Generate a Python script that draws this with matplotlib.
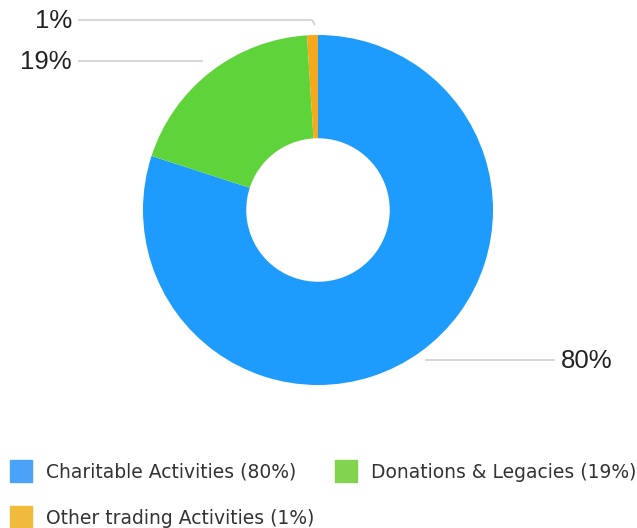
import matplotlib
matplotlib.use("Agg")
import matplotlib.pyplot as plt
from matplotlib.patches import Rectangle
import numpy as np

categories = ["Charitable Activities", "Donations & Legacies", "Other trading Activities"]
values = [80, 19, 1]
wedge_colors = ["#1E9CFD", "#5FD33A", "#F7A81B"]
legend_colors = ["#4AA3F7", "#82D44F", "#F0BA3C"]

W, H = 637, 528
CX, CY, R = 318, 210, 175  # donut centre and radius in pixels


def fx(px):
    return px / W


def fy(py):
    return 1 - py / H


fig = plt.figure(figsize=(W / 100, H / 100), dpi=100)
ax = fig.add_axes([0, 0, 1, 1])

ax.pie(values, colors=wedge_colors, startangle=90, counterclock=False,
       radius=1.0, wedgeprops=dict(width=0.59, edgecolor="none"))
ax.set_aspect("auto")
ax.set_xlim(-CX / R, (W - CX) / R)
ax.set_ylim((CY - H) / R, CY / R)
ax.axis("off")


def to_data(px, py):
    return (px - CX) / R, (CY - py) / R


# percentage labels with leader lines (pixel positions)
label_font = dict(family=["Liberation Sans", "DejaVu Sans"], fontsize=18.5, color="#222222")
leaders = [
    # (label text, text anchor px, ha, line points px)
    (f"{values[2]}%", (72, 21), "right", [(78, 20), (312, 20), (315, 25)]),
    (f"{values[1]}%", (72, 62), "right", [(78, 61), (203, 61)]),
    (f"{values[0]}%", (561, 361), "left", [(425, 360), (555, 360)]),
]
for txt, (tx, ty), ha, pts in leaders:
    xs, ys = zip(*[to_data(p[0], p[1]) for p in pts])
    ax.plot(xs, ys, color="#cfcfcf", lw=1.2, solid_capstyle="butt")
    x, y = to_data(tx, ty)
    ax.text(x, y, txt, ha=ha, va="center", **label_font)

# legend
legend_pos = [(10, 460), (335, 460), (10, 506)]
for cat, val, col, (px, py) in zip(categories, values, legend_colors, legend_pos):
    fig.patches.append(Rectangle((fx(px), fy(py + 22)), 22 / W, 22 / H,
                                 transform=fig.transFigure, color=col))
    fig.text(fx(px + 36), fy(py + 12.5), f"{cat} ({val}%)", ha="left", va="center",
             fontsize=13.5, color="#333333", family="DejaVu Sans")

fig.savefig("out.png", dpi=100, facecolor="white")
